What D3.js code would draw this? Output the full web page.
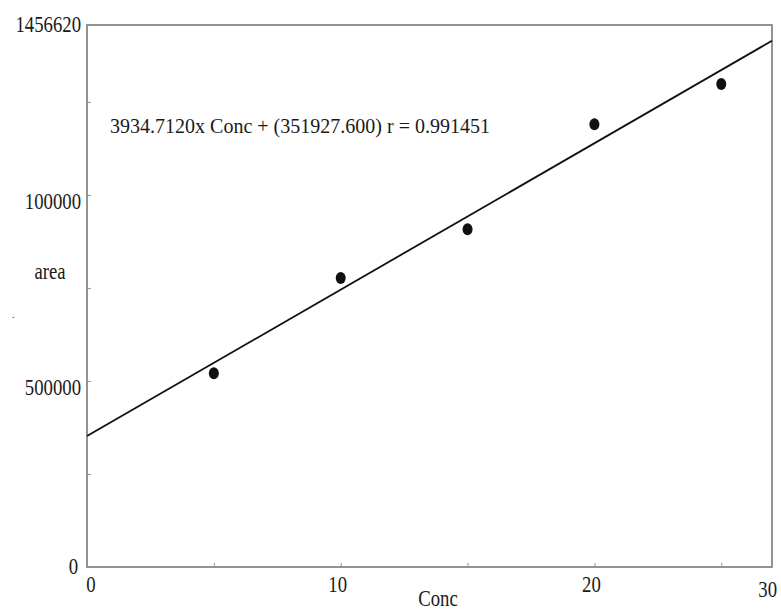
<!DOCTYPE html>
<html>
<head>
<meta charset="utf-8">
<script src="https://cdn.jsdelivr.net/npm/d3@7"></script>
<style>
  body { margin: 0; background: #fff; }
  svg text { font-family: "Liberation Serif", "Times New Roman", serif; fill: #1a1a1a; }
</style>
</head>
<body>
<svg class="chart" width="781" height="610"></svg>
<script>
// data
const conc = [5, 10, 15, 20, 25];
const area = [521000, 777000, 908000, 1190000, 1298000];

// fit given in the chart
const slope = 39347.12;
const intercept = 351927.6;
const fitText = "3934.7120x Conc + (351927.600) r = 0.991451";

const xDomain = [0, 27];
const yDomain = [0, 1456620];
const xTicks = [0, 5, 10, 15, 20, 25];
const yTicks = [0, 250000, 500000, 750000, 1000000, 1250000];
const xLabelValues = [0, 10, 20, 27];
const xLabelTexts = ["0", "10", "20", "30"];
const yLabelValues = [0, 500000, 1000000, 1456620];
const yLabelTexts = ["0", "500000", "100000", "1456620"];

const plotLeft = 87, plotRight = 772, plotTop = 25, plotBottom = 567;
const squeeze = 0.78; // the glyphs in the picture are narrow

const svg = d3.select(".chart");

const x = d3.scaleLinear().domain(xDomain).range([plotLeft, plotRight]);
const y = d3.scaleLinear().domain(yDomain).range([plotBottom, plotTop]);

// frame
svg.append("rect")
    .attr("x", plotLeft).attr("y", plotTop)
    .attr("width", plotRight - plotLeft).attr("height", plotBottom - plotTop)
    .attr("fill", "none")
    .attr("stroke", "#939393")
    .attr("stroke-width", 2);

// ticks, pointing inward
const xAxis = d3.axisTop(x).tickValues(xTicks).tickSize(4).tickFormat("");
svg.append("g")
    .attr("transform", `translate(0, ${plotBottom})`)
    .call(xAxis)
    .call(g => g.select(".domain").remove())
    .call(g => g.selectAll("line").attr("stroke", "#939393"));

const yAxis = d3.axisRight(y).tickValues(yTicks).tickSize(4).tickFormat("");
svg.append("g")
    .attr("transform", `translate(${plotLeft}, 0)`)
    .call(yAxis)
    .call(g => g.select(".domain").remove())
    .call(g => g.selectAll("line").attr("stroke", "#939393"));

function narrow(sel) {
    sel.each(function() {
        const w = this.getComputedTextLength();
        d3.select(this).attr("textLength", w * squeeze).attr("lengthAdjust", "spacingAndGlyphs");
    });
}

// tick labels
svg.append("g").selectAll("text")
    .data(xLabelValues)
    .join("text")
    .attr("x", (d, i) => i === 3 ? x(d) + 5 : x(d) + (i === 0 ? 4 : -3))
    .attr("y", (d, i) => i === 3 ? 597 : 592)
    .attr("text-anchor", (d, i) => i === 3 ? "end" : "middle")
    .attr("font-size", 24)
    .text((d, i) => xLabelTexts[i])
    .call(narrow);

svg.append("g").selectAll("text")
    .data(yLabelValues)
    .join("text")
    .attr("x", (d, i) => i === 0 ? 78 : 81)
    .attr("y", (d, i) => y(d) + (i === 3 ? 7 : i === 0 ? 7 : 14))
    .attr("text-anchor", "end")
    .attr("font-size", 24)
    .text((d, i) => yLabelTexts[i])
    .call(narrow);

// axis titles
svg.append("text")
    .attr("x", 438).attr("y", 606)
    .attr("text-anchor", "middle")
    .attr("font-size", 24)
    .text("Conc")
    .call(narrow);

svg.append("text")
    .attr("x", 50).attr("y", 279)
    .attr("text-anchor", "middle")
    .attr("font-size", 24)
    .text("area")
    .call(narrow);

svg.append("text")
    .attr("x", 12).attr("y", 318)
    .attr("font-size", 10)
    .attr("fill", "#999")
    .text(".");

// fit line
const fit = d3.line().x(d => x(d)).y(d => y(intercept + slope * d));
svg.append("path")
    .datum(xDomain)
    .attr("d", fit)
    .attr("fill", "none")
    .attr("stroke", "#111")
    .attr("stroke-width", 1.8);

// points
svg.append("g").selectAll("ellipse")
    .data(conc)
    .join("ellipse")
    .attr("cx", d => x(d))
    .attr("cy", (d, i) => y(area[i]))
    .attr("rx", 5)
    .attr("ry", 6)
    .attr("fill", "#111");

// equation
svg.append("text")
    .attr("x", 110).attr("y", 133)
    .attr("font-size", 22)
    .attr("textLength", 380)
    .attr("lengthAdjust", "spacingAndGlyphs")
    .text(fitText);
</script>
</body>
</html>
